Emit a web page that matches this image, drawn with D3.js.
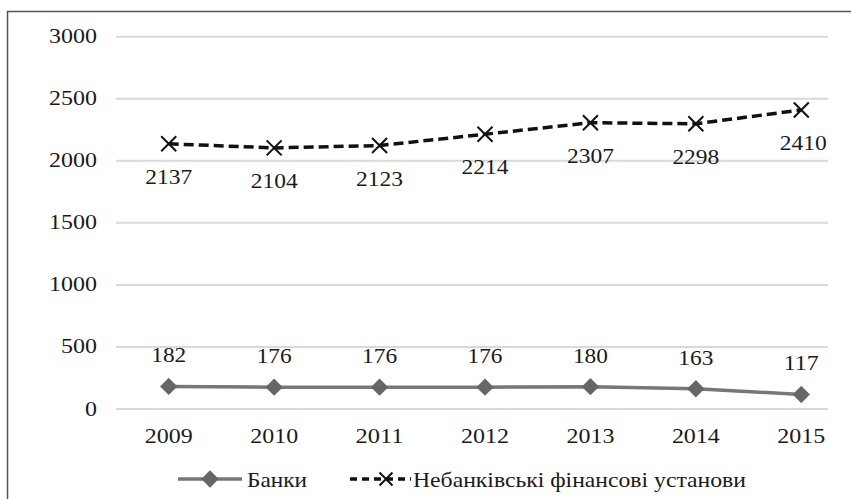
<!DOCTYPE html>
<html>
<head>
<meta charset="utf-8">
<script src="https://cdn.jsdelivr.net/npm/d3@7"></script>
</head>
<body style="margin:0;background:#fff">
<svg id="chart" width="851" height="499" style="display:block" font-family="Liberation Serif, serif"></svg>
<script>
const years = ["2009","2010","2011","2012","2013","2014","2015"];
const banks = [182,176,176,176,180,163,117];
const nonBanks = [2137,2104,2123,2214,2307,2298,2410];
const yTicks = [0,500,1000,1500,2000,2500,3000];
const seriesNames = ["Банки","Небанківські фінансові установи"];

const FONT = '"Liberation Serif", "Times New Roman", serif';
const svg = d3.select("#chart");
const clipRight = 828;
const fs = 21;

svg.append("path")
  .attr("d","M7.5,499 L7.5,11.5 L851,11.5")
  .attr("fill","none").attr("stroke","#555").attr("stroke-width",1.5);

svg.append("defs").append("clipPath").attr("id","clip")
  .append("rect").attr("x",0).attr("y",0).attr("width",clipRight).attr("height",499);

const g = svg.append("g").attr("clip-path","url(#clip)");

const x = d3.scaleBand().domain(years).range([116, 854]);
const y = d3.scaleLinear().domain([0,3000]).range([409, 36.7]);
const cx = d => x(d) + x.bandwidth()/2;

// place a text at (px,py) and stretch it horizontally to the target width
function putText(parent, str, px, py, anchor, target){
  const t = parent.append("text")
    .attr("x",0).attr("y",0)
    .attr("text-anchor",anchor)
    .attr("font-family","Liberation Serif")
    .attr("font-size",fs)
    .style("font-family",FONT,"important")
    .attr("fill","#1a1a1a").text(str);
  const len = t.node().getComputedTextLength() || 1;
  const sx = target ? target/len : 1;
  t.attr("transform",`translate(${px},${py}) scale(${sx},1)`);
  return t;
}

// gridlines
g.append("g").selectAll("line").data(yTicks).join("line")
  .attr("x1",116).attr("x2",854)
  .attr("y1",d=>y(d)).attr("y2",d=>y(d))
  .attr("stroke","#d9d9d9").attr("stroke-width",2);

// y axis labels
const ya = g.append("g");
yTicks.forEach(v => putText(ya, String(v), 97, y(v)+6.5, "end", String(v).length*12));

// x axis labels
const xa = g.append("g");
years.forEach(yr => putText(xa, yr, cx(yr), 443, "middle", 48));

// banks line
const lineB = d3.line().x((d,i)=>cx(years[i])).y(d=>y(d));
g.append("path").datum(banks).attr("d",lineB)
  .attr("fill","none").attr("stroke","#777").attr("stroke-width",3.5);
const diamond = d3.symbol().type(d3.symbolSquare).size(150);
g.append("g").selectAll("path").data(banks).join("path")
  .attr("d",diamond())
  .attr("transform",(d,i)=>`translate(${cx(years[i])},${y(d)}) rotate(45)`)
  .attr("fill","#666");
const bl = g.append("g");
banks.forEach((v,i) => putText(bl, String(v), cx(years[i]), y(v)-24, "middle", 35));

// non-banks line
g.append("path").datum(nonBanks).attr("d",lineB)
  .attr("fill","none").attr("stroke","#111").attr("stroke-width",3.5)
  .attr("stroke-dasharray","10,5");
function xMark(sel, s){
  sel.append("path")
    .attr("d",`M${-s},${-s}L${s},${s}M${-s},${s}L${s},${-s}`)
    .attr("stroke","#111").attr("stroke-width",2).attr("fill","none");
}
g.append("g").selectAll("g").data(nonBanks).join("g")
  .attr("transform",(d,i)=>`translate(${cx(years[i])},${y(d)})`)
  .call(xMark, 7.5);
const nl = g.append("g");
nonBanks.forEach((v,i) => putText(nl, String(v), cx(years[i])+(i===6?2:0), y(v)+40, "middle", 47));

// legend
const lg = svg.append("g");
const ly = 479;
lg.append("line").attr("x1",178).attr("x2",242).attr("y1",ly).attr("y2",ly)
  .attr("stroke","#777").attr("stroke-width",3.5);
lg.append("path").attr("d",diamond())
  .attr("transform",`translate(210,${ly}) rotate(45)`).attr("fill","#666");
putText(lg, seriesNames[0], 247, ly+8, "start", 60);

lg.append("line").attr("x1",350).attr("x2",411).attr("y1",ly).attr("y2",ly)
  .attr("stroke","#111").attr("stroke-width",3.5).attr("stroke-dasharray","7,5");
lg.append("g").attr("transform",`translate(386,${ly})`).call(xMark,6.5);
putText(lg, seriesNames[1], 413, ly+8, "start", 333);
</script>
</body>
</html>
